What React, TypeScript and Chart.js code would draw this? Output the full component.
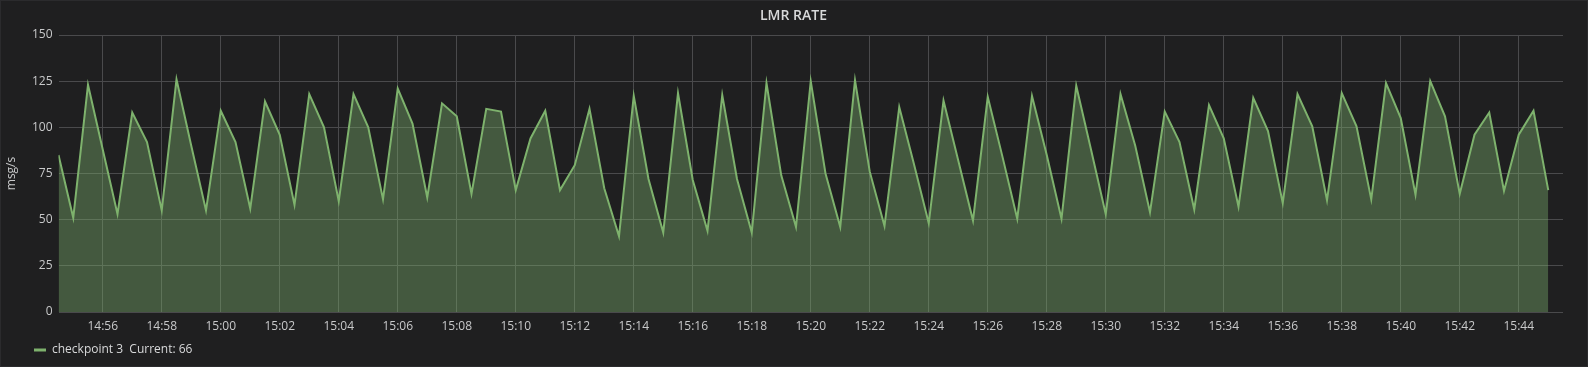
import React, { useEffect, useRef } from "react";
import { Chart, registerables } from "chart.js";

Chart.register(...registerables);

const TITLE = "LMR RATE";
const SERIES_NAME = "checkpoint 3";
const Y_AXIS_TITLE = "msg/s";

const TIMES = [
  "14:54:30",
  "14:55:00", "14:55:30", "14:56:00", "14:56:30", "14:57:00", "14:57:30",
  "14:58:00", "14:58:30", "14:59:00", "14:59:30",
  "15:00:00", "15:00:30", "15:01:00", "15:01:30", "15:02:00", "15:02:30",
  "15:03:00", "15:03:30", "15:04:00", "15:04:30", "15:05:00", "15:05:30",
  "15:06:00", "15:06:30", "15:07:00", "15:07:30", "15:08:00", "15:08:30",
  "15:09:00", "15:09:30", "15:10:00", "15:10:30", "15:11:00", "15:11:30",
  "15:12:00", "15:12:30", "15:13:00", "15:13:30", "15:14:00", "15:14:30",
  "15:15:00", "15:15:30", "15:16:00", "15:16:30", "15:17:00", "15:17:30",
  "15:18:00", "15:18:30", "15:19:00", "15:19:30", "15:20:00", "15:20:30",
  "15:21:00", "15:21:30", "15:22:00", "15:22:30", "15:23:00", "15:23:30",
  "15:24:00", "15:24:30", "15:25:00", "15:25:30", "15:26:00", "15:26:30",
  "15:27:00", "15:27:30", "15:28:00", "15:28:30", "15:29:00", "15:29:30",
  "15:30:00", "15:30:30", "15:31:00", "15:31:30", "15:32:00", "15:32:30",
  "15:33:00", "15:33:30", "15:34:00", "15:34:30", "15:35:00", "15:35:30",
  "15:36:00", "15:36:30", "15:37:00", "15:37:30", "15:38:00", "15:38:30",
  "15:39:00", "15:39:30", "15:40:00", "15:40:30", "15:41:00", "15:41:30",
  "15:42:00", "15:42:30", "15:43:00", "15:43:30", "15:44:00", "15:44:30",
  "15:45:00",
];

const VALUES = [
  85,
  51, 123, 88, 53, 108, 92,
  55, 126, 90, 55,
  109, 92, 56, 114, 96, 58,
  118, 100, 60, 118, 100, 61,
  121, 102, 62, 113, 106, 64,
  110, 108.5, 66, 94, 109, 66,
  79.5, 110, 67, 41, 117, 72,
  43, 118.5, 71.5, 44, 117.5, 72,
  43, 124, 74, 46, 125, 75,
  46, 125.5, 76, 46.5, 111, 80,
  48, 114.5, 82, 49.5, 116.5, 84,
  50.5, 117, 85, 50.5, 122.5, 88,
  53, 118, 90, 54, 108.5, 92,
  55.5, 112, 94, 57, 116, 98,
  59, 118, 100.5, 60.5, 118.5, 100.5,
  61, 124, 105, 63.5, 125, 106,
  64, 96, 108, 65.5, 96, 109,
  66,
];

const X_TICK_LABELS = [
  "14:56", "14:58", "15:00", "15:02", "15:04", "15:06", "15:08", "15:10",
  "15:12", "15:14", "15:16", "15:18", "15:20", "15:22", "15:24", "15:26",
  "15:28", "15:30", "15:32", "15:34", "15:36", "15:38", "15:40", "15:42",
  "15:44",
];
const Y_TICKS = [0, 25, 50, 75, 100, 125, 150];
const X_MIN = "14:54:30";
const X_MAX = "15:45:30";
const CURRENT = VALUES[VALUES.length - 1];

const BG = "#1f1f20";
const LINE = "#7eb26d";
const FILL = "rgba(126,178,109,0.4)";
const GRID = "#4a4a4c";
const TEXT = "#c8c9ca";
const FONT = "'Open Sans', 'Noto Sans', sans-serif";

function toMin(t: string): number {
  const p = t.split(":").map(Number);
  return p[0] * 60 + p[1] + (p[2] || 0) / 60;
}

export default function App() {
  const ref = useRef<HTMLCanvasElement | null>(null);

  useEffect(() => {
    const canvas = ref.current;
    if (!canvas) return;
    const chart = new Chart(canvas, {
      type: "line",
      data: {
        datasets: [
          {
            label: SERIES_NAME,
            data: TIMES.map((t, i) => ({ x: toMin(t), y: VALUES[i] })),
            borderColor: LINE,
            backgroundColor: FILL,
            fill: "origin",
            borderWidth: 2,
            pointRadius: 0,
            tension: 0,
          },
        ],
      },
      options: {
        animation: false,
        responsive: false,
        events: [],
        layout: { padding: { left: 24, right: 25, top: 0, bottom: 1 } },
        scales: {
          x: {
            type: "linear",
            min: toMin(X_MIN),
            max: toMin(X_MAX),
            afterBuildTicks: (s: any) => {
              s.ticks = X_TICK_LABELS.map((l) => ({ value: toMin(l) }));
            },
            afterFit: (s: any) => {
              s.height = 22;
            },
            ticks: {
              callback: (_v: any, i: number) => X_TICK_LABELS[i],
              color: TEXT,
              font: { family: FONT, size: 12 },
              padding: 7,
              maxRotation: 0,
              autoSkip: false,
            },
            grid: { color: GRID, drawTicks: false, lineWidth: 1 },
            border: { display: false },
          },
          y: {
            type: "linear",
            min: 0,
            max: 150,
            afterBuildTicks: (s: any) => {
              s.ticks = Y_TICKS.map((v) => ({ value: v }));
            },
            afterFit: (s: any) => {
              s.width = 34.5;
            },
            ticks: {
              color: TEXT,
              font: { family: FONT, size: 12 },
              padding: 6,
            },
            grid: { color: GRID, drawTicks: false, lineWidth: 1 },
            border: { display: false },
            title: {
              display: true,
              text: Y_AXIS_TITLE,
              color: TEXT,
              font: { family: FONT, size: 12 },
              padding: { top: -19.5, bottom: 0 },
            },
          },
        },
        plugins: {
          title: {
            display: true,
            text: TITLE,
            color: "#d8d9da",
            font: { family: FONT, size: 14, weight: "600" },
            padding: { top: 8, bottom: 10.2 },
          },
          legend: {
            position: "bottom",
            align: "start",
            labels: {
              boxWidth: 12,
              boxHeight: 3,
              padding: 10,
              color: "#d8d9da",
              font: { family: FONT, size: 12 },
              generateLabels: () => [
                {
                  text: `${SERIES_NAME}  Current: ${CURRENT}`,
                  fillStyle: LINE,
                  strokeStyle: LINE,
                  lineWidth: 0,
                  hidden: false,
                  datasetIndex: 0,
                  fontColor: "#d8d9da",
                },
              ],
            },
          },
          tooltip: { enabled: false },
        },
      },
    } as any);
    return () => chart.destroy();
  }, []);

  return (
    <div
      style={{
        position: "fixed",
        left: 0,
        top: 0,
        width: 1588,
        height: 367,
        background: BG,
        boxShadow: "inset 0 0 0 1px #2b2b2d",
      }}
    >
      <canvas
        ref={ref}
        width={1588}
        height={367}
        style={{ display: "block", width: 1588, height: 367 }}
      />
    </div>
  );
}
